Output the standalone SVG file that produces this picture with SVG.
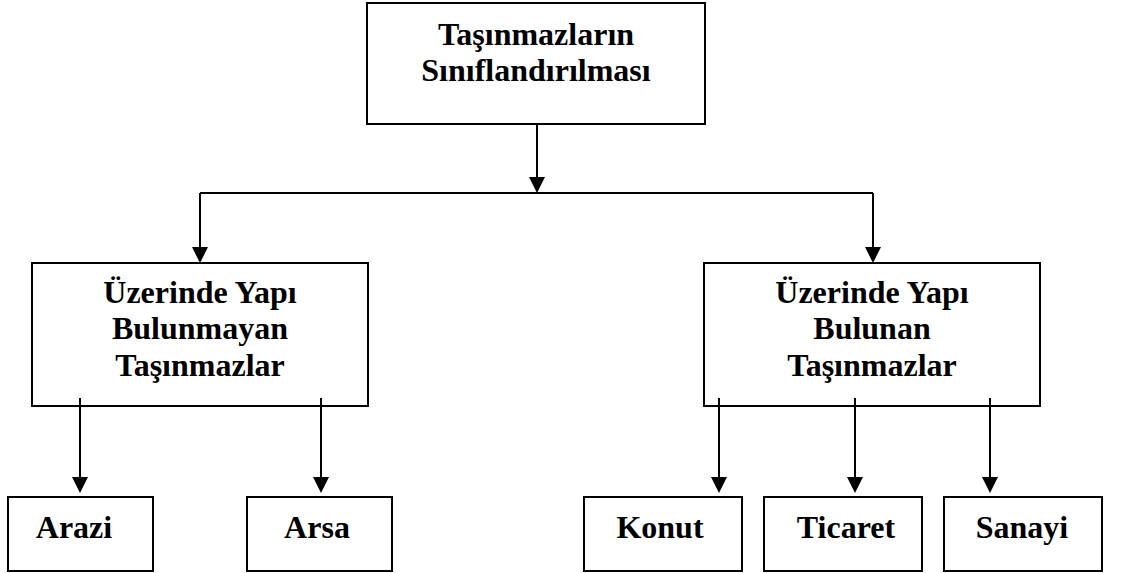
<svg xmlns="http://www.w3.org/2000/svg" width="1137" height="573" viewBox="0 0 1137 573">
<style>
.box{fill:#fff;stroke:#000;stroke-width:2}
.t{font-family:"Liberation Serif","Times New Roman",serif;font-weight:bold;font-size:32px;fill:#000;text-anchor:middle}
.c{fill:none;stroke:#000;stroke-width:2}
</style>
<defs>
<marker id="ah" markerUnits="userSpaceOnUse" markerWidth="17" markerHeight="17" refX="10" refY="8" orient="auto">
<path d="M0,0 L16,8 L0,16 Z" fill="#000"/>
</marker>
</defs>
<rect width="1137" height="573" fill="#fff"/>
<g id="root">
<rect class="box" x="367" y="3" width="338" height="121"/>
<text class="t" x="536" y="45">Taşınmazların</text>
<text class="t" x="536" y="81">Sınıflandırılması</text>
</g>
<g id="bulunmayan">
<rect class="box" x="32" y="263" width="336" height="143"/>
<text class="t" x="200" y="303">Üzerinde Yapı</text>
<text class="t" x="200" y="339">Bulunmayan</text>
<text class="t" x="200" y="376">Taşınmazlar</text>
</g>
<g id="bulunan">
<rect class="box" x="704" y="263" width="336" height="143"/>
<text class="t" x="872" y="303">Üzerinde Yapı</text>
<text class="t" x="872" y="339">Bulunan</text>
<text class="t" x="872" y="376">Taşınmazlar</text>
</g>
<g id="arazi">
<rect class="box" x="8" y="497" width="145" height="74"/>
<text class="t" x="74" y="538">Arazi</text>
</g>
<g id="arsa">
<rect class="box" x="247" y="497" width="145" height="74"/>
<text class="t" x="317" y="538">Arsa</text>
</g>
<g id="konut">
<rect class="box" x="584" y="497" width="158" height="74"/>
<text class="t" x="660" y="538">Konut</text>
</g>
<g id="ticaret">
<rect class="box" x="764" y="497" width="158" height="74"/>
<text class="t" x="846" y="538">Ticaret</text>
</g>
<g id="sanayi">
<rect class="box" x="944" y="497" width="158" height="74"/>
<text class="t" x="1022" y="538">Sanayi</text>
</g>
<g id="connectors">
<path class="c" d="M537,124 V187" marker-end="url(#ah)"/>
<path class="c" d="M200,193 H873"/>
<path class="c" d="M200,193 V257" marker-end="url(#ah)"/>
<path class="c" d="M873,193 V257" marker-end="url(#ah)"/>
<path class="c" d="M80,398 V487" marker-end="url(#ah)"/>
<path class="c" d="M321,398 V487" marker-end="url(#ah)"/>
<path class="c" d="M719,398 V487" marker-end="url(#ah)"/>
<path class="c" d="M855,398 V487" marker-end="url(#ah)"/>
<path class="c" d="M990,398 V487" marker-end="url(#ah)"/>
</g>
</svg>
